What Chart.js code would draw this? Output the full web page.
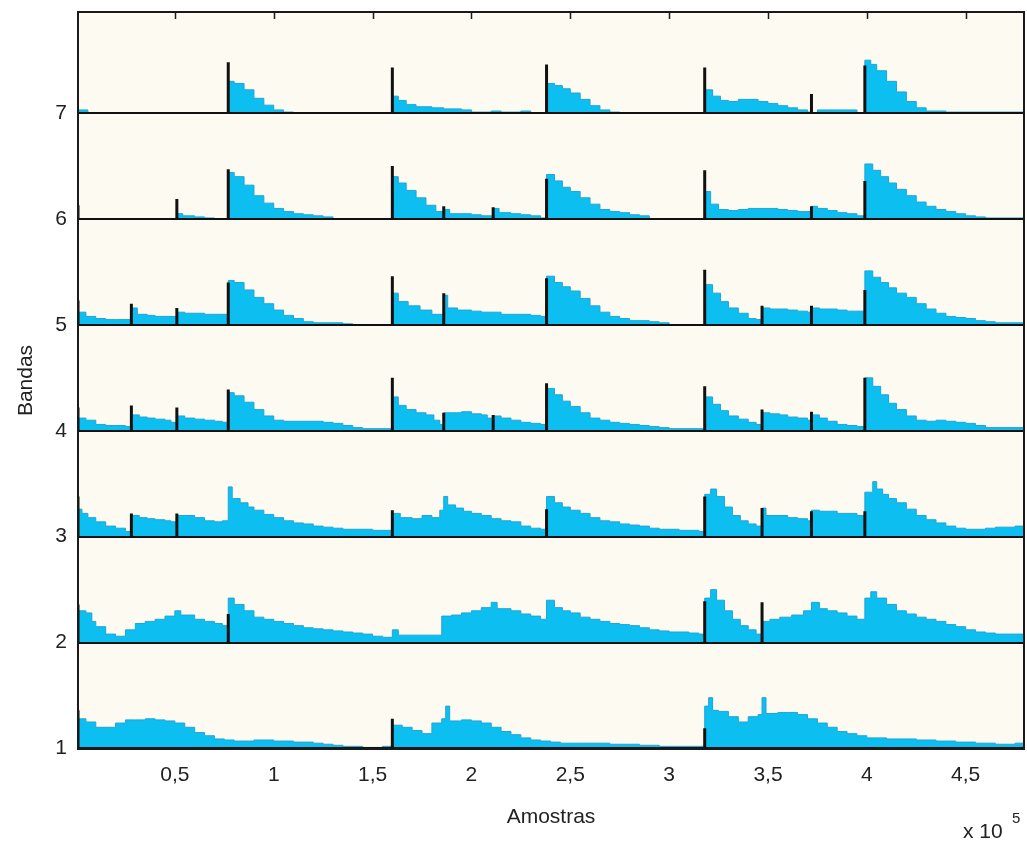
<!DOCTYPE html>
<html>
<head>
<meta charset="utf-8">
<title>Bandas x Amostras</title>
<script src="https://cdn.jsdelivr.net/npm/chart.js@4.4.1/dist/chart.umd.min.js"></script>
<style>
  body { margin: 0; background: #ffffff; }
  #wrap { width: 1027px; height: 842px; }
</style>
</head>
<body>
<div id="wrap"><canvas id="bandChart" width="1027" height="842"></canvas></div>
<script>
// ===== DATA (x in units of 1e5 samples, h = height above the band baseline) =====
const bandLevels = [1, 2, 3, 4, 5, 6, 7];
const xTickValues = [0.5, 1, 1.5, 2, 2.5, 3, 3.5, 4, 4.5];

const band1 = [[0.01,0.28],[0.05,0.25],[0.1,0.2],[0.15,0.2],[0.2,0.24],[0.25,0.27],[0.3,0.27],[0.35,0.28],[0.4,0.27],[0.45,0.26],[0.5,0.24],[0.55,0.2],[0.6,0.15],[0.65,0.12],[0.7,0.09],[0.75,0.08],[0.8,0.07],[0.9,0.08],[1.0,0.07],[1.1,0.06],[1.2,0.05],[1.25,0.04],[1.3,0.03],[1.35,0.02],[1.45,0.01],[1.55,0.02],[1.6,0.22],[1.65,0.2],[1.7,0.17],[1.75,0.14],[1.8,0.24],[1.85,0.28],[1.87,0.4],[1.89,0.26],[1.95,0.27],[2.0,0.26],[2.05,0.24],[2.1,0.2],[2.15,0.16],[2.2,0.13],[2.25,0.1],[2.3,0.08],[2.35,0.07],[2.4,0.06],[2.45,0.05],[2.7,0.04],[2.85,0.03],[2.95,0.02],[3.18,0.4],[3.2,0.48],[3.22,0.36],[3.25,0.35],[3.3,0.3],[3.35,0.25],[3.4,0.3],[3.45,0.32],[3.47,0.48],[3.49,0.33],[3.55,0.34],[3.6,0.34],[3.65,0.32],[3.7,0.28],[3.75,0.24],[3.8,0.2],[3.85,0.16],[3.9,0.14],[3.95,0.12],[4.0,0.1],[4.1,0.09],[4.25,0.08],[4.35,0.07],[4.45,0.06],[4.55,0.05],[4.65,0.04],[4.75,0.05],[4.8,0.05]];
const band2 = [[0.01,0.3],[0.05,0.28],[0.08,0.2],[0.1,0.15],[0.15,0.08],[0.2,0.06],[0.25,0.12],[0.3,0.18],[0.35,0.2],[0.4,0.22],[0.45,0.25],[0.5,0.3],[0.53,0.26],[0.6,0.22],[0.65,0.2],[0.7,0.18],[0.74,0.16],[0.77,0.42],[0.8,0.36],[0.85,0.3],[0.9,0.24],[0.95,0.22],[1.0,0.2],[1.05,0.18],[1.1,0.16],[1.15,0.14],[1.2,0.13],[1.25,0.12],[1.3,0.11],[1.35,0.1],[1.4,0.09],[1.45,0.08],[1.5,0.06],[1.55,0.05],[1.6,0.12],[1.63,0.07],[1.85,0.25],[1.9,0.26],[1.95,0.28],[2.0,0.3],[2.05,0.33],[2.1,0.38],[2.13,0.32],[2.2,0.3],[2.25,0.27],[2.3,0.25],[2.35,0.22],[2.38,0.4],[2.42,0.33],[2.46,0.3],[2.5,0.28],[2.55,0.24],[2.6,0.22],[2.65,0.2],[2.7,0.18],[2.75,0.17],[2.8,0.16],[2.85,0.14],[2.9,0.12],[2.95,0.11],[3.0,0.1],[3.1,0.09],[3.15,0.08],[3.18,0.42],[3.21,0.5],[3.24,0.4],[3.28,0.3],[3.32,0.22],[3.36,0.16],[3.4,0.12],[3.44,0.08],[3.47,0.2],[3.51,0.22],[3.56,0.24],[3.62,0.26],[3.68,0.3],[3.72,0.38],[3.76,0.32],[3.8,0.3],[3.85,0.28],[3.9,0.25],[3.95,0.22],[3.99,0.42],[4.02,0.48],[4.05,0.42],[4.1,0.36],[4.15,0.3],[4.2,0.27],[4.25,0.24],[4.3,0.22],[4.35,0.2],[4.4,0.17],[4.45,0.15],[4.5,0.12],[4.55,0.1],[4.6,0.09],[4.65,0.08],[4.8,0.08]];
const band3 = [[0.01,0.26],[0.03,0.22],[0.06,0.18],[0.1,0.14],[0.15,0.1],[0.2,0.08],[0.25,0.05],[0.28,0.2],[0.32,0.18],[0.36,0.17],[0.4,0.16],[0.45,0.15],[0.48,0.14],[0.51,0.2],[0.55,0.2],[0.6,0.18],[0.65,0.15],[0.7,0.14],[0.74,0.15],[0.77,0.47],[0.79,0.36],[0.83,0.32],[0.87,0.28],[0.9,0.25],[0.95,0.21],[1.0,0.18],[1.05,0.15],[1.1,0.13],[1.15,0.12],[1.2,0.1],[1.25,0.09],[1.3,0.08],[1.35,0.07],[1.5,0.06],[1.6,0.22],[1.64,0.18],[1.7,0.17],[1.75,0.2],[1.8,0.18],[1.84,0.25],[1.86,0.38],[1.88,0.3],[1.92,0.27],[1.96,0.24],[2.0,0.22],[2.05,0.2],[2.1,0.17],[2.15,0.15],[2.2,0.14],[2.25,0.1],[2.3,0.08],[2.35,0.07],[2.38,0.38],[2.42,0.32],[2.46,0.28],[2.5,0.25],[2.55,0.22],[2.6,0.18],[2.65,0.15],[2.7,0.14],[2.75,0.12],[2.8,0.11],[2.85,0.1],[2.9,0.08],[2.95,0.07],[3.05,0.06],[3.15,0.05],[3.18,0.4],[3.21,0.45],[3.24,0.38],[3.28,0.28],[3.32,0.2],[3.36,0.15],[3.4,0.12],[3.44,0.1],[3.47,0.27],[3.49,0.2],[3.55,0.2],[3.6,0.18],[3.65,0.17],[3.7,0.15],[3.72,0.25],[3.76,0.24],[3.8,0.24],[3.85,0.22],[3.9,0.22],[3.95,0.2],[3.99,0.42],[4.03,0.52],[4.05,0.45],[4.08,0.4],[4.11,0.36],[4.15,0.32],[4.2,0.26],[4.25,0.2],[4.3,0.16],[4.35,0.13],[4.4,0.1],[4.45,0.08],[4.5,0.07],[4.6,0.08],[4.65,0.09],[4.7,0.09],[4.75,0.1],[4.8,0.1]];
const band4 = [[0.01,0.12],[0.05,0.1],[0.1,0.06],[0.15,0.05],[0.2,0.05],[0.25,0.04],[0.28,0.15],[0.32,0.13],[0.36,0.12],[0.4,0.11],[0.45,0.1],[0.48,0.08],[0.51,0.14],[0.55,0.12],[0.6,0.11],[0.65,0.1],[0.7,0.09],[0.74,0.08],[0.77,0.36],[0.8,0.33],[0.85,0.27],[0.9,0.2],[0.95,0.14],[1.0,0.1],[1.05,0.09],[1.25,0.08],[1.3,0.07],[1.35,0.05],[1.4,0.03],[1.45,0.02],[1.6,0.32],[1.63,0.24],[1.67,0.2],[1.72,0.17],[1.77,0.15],[1.81,0.1],[1.84,0.06],[1.86,0.17],[1.9,0.17],[1.95,0.18],[2.0,0.16],[2.05,0.15],[2.08,0.12],[2.11,0.14],[2.15,0.12],[2.2,0.1],[2.25,0.08],[2.3,0.07],[2.35,0.06],[2.38,0.4],[2.42,0.34],[2.46,0.28],[2.5,0.23],[2.55,0.17],[2.6,0.12],[2.65,0.1],[2.7,0.08],[2.75,0.07],[2.8,0.06],[2.85,0.05],[2.9,0.04],[2.95,0.03],[3.0,0.02],[3.18,0.32],[3.22,0.25],[3.26,0.19],[3.3,0.14],[3.35,0.11],[3.4,0.08],[3.44,0.06],[3.47,0.17],[3.51,0.16],[3.56,0.15],[3.6,0.13],[3.65,0.12],[3.7,0.1],[3.72,0.15],[3.76,0.12],[3.8,0.09],[3.85,0.06],[3.9,0.05],[3.95,0.04],[3.99,0.5],[4.03,0.42],[4.07,0.34],[4.11,0.26],[4.15,0.2],[4.2,0.14],[4.25,0.1],[4.3,0.09],[4.35,0.1],[4.4,0.09],[4.45,0.08],[4.5,0.07],[4.55,0.05],[4.6,0.03],[4.8,0.03]];
const band5 = [[0.01,0.12],[0.05,0.08],[0.1,0.06],[0.15,0.05],[0.2,0.05],[0.28,0.16],[0.31,0.1],[0.36,0.09],[0.4,0.08],[0.45,0.08],[0.51,0.12],[0.55,0.11],[0.6,0.11],[0.65,0.1],[0.7,0.1],[0.77,0.42],[0.8,0.4],[0.85,0.33],[0.9,0.26],[0.95,0.2],[1.0,0.14],[1.05,0.09],[1.1,0.06],[1.15,0.03],[1.2,0.02],[1.35,0.01],[1.4,0],[1.6,0.3],[1.63,0.22],[1.68,0.18],[1.74,0.14],[1.8,0.1],[1.86,0.28],[1.88,0.16],[1.93,0.14],[2.0,0.13],[2.05,0.12],[2.1,0.12],[2.15,0.1],[2.25,0.1],[2.3,0.09],[2.35,0.08],[2.38,0.46],[2.42,0.4],[2.46,0.36],[2.5,0.32],[2.55,0.25],[2.6,0.18],[2.65,0.12],[2.7,0.08],[2.75,0.06],[2.8,0.04],[2.9,0.03],[2.95,0.02],[3.0,0],[3.18,0.38],[3.22,0.3],[3.26,0.22],[3.3,0.16],[3.35,0.11],[3.4,0.06],[3.44,0.05],[3.47,0.16],[3.51,0.15],[3.6,0.14],[3.65,0.13],[3.7,0.12],[3.72,0.16],[3.76,0.15],[3.85,0.14],[3.9,0.13],[3.99,0.51],[4.03,0.45],[4.07,0.4],[4.11,0.35],[4.15,0.3],[4.2,0.26],[4.25,0.2],[4.3,0.15],[4.35,0.11],[4.4,0.08],[4.45,0.07],[4.5,0.06],[4.55,0.04],[4.6,0.03],[4.65,0.02],[4.8,0.02]];
const band6 = [[0.01,0],[0.51,0.05],[0.54,0.03],[0.6,0.02],[0.65,0.01],[0.7,0],[0.77,0.44],[0.8,0.4],[0.85,0.32],[0.9,0.22],[0.95,0.15],[1.0,0.1],[1.05,0.07],[1.1,0.05],[1.15,0.04],[1.2,0.03],[1.25,0.02],[1.3,0],[1.6,0.4],[1.63,0.34],[1.67,0.27],[1.72,0.2],[1.77,0.13],[1.82,0.07],[1.86,0.09],[1.89,0.05],[1.95,0.05],[2.0,0.04],[2.05,0.03],[2.11,0.1],[2.14,0.06],[2.2,0.05],[2.25,0.04],[2.3,0.03],[2.35,0.01],[2.38,0.42],[2.42,0.36],[2.46,0.3],[2.5,0.26],[2.55,0.2],[2.6,0.14],[2.65,0.09],[2.7,0.07],[2.75,0.06],[2.8,0.04],[2.85,0.03],[2.9,0],[3.18,0.26],[3.21,0.14],[3.25,0.09],[3.3,0.08],[3.35,0.09],[3.4,0.1],[3.45,0.1],[3.5,0.1],[3.55,0.09],[3.6,0.08],[3.65,0.07],[3.72,0.12],[3.75,0.1],[3.8,0.08],[3.85,0.06],[3.9,0.05],[3.95,0.03],[3.99,0.52],[4.03,0.46],[4.07,0.4],[4.11,0.34],[4.15,0.28],[4.2,0.22],[4.25,0.16],[4.3,0.12],[4.35,0.09],[4.4,0.07],[4.45,0.05],[4.5,0.03],[4.55,0.02],[4.6,0.01],[4.8,0.01]];
const band7 = [[0.01,0.03],[0.06,0],[0.77,0.3],[0.8,0.28],[0.85,0.22],[0.9,0.14],[0.95,0.075],[1.0,0.03],[1.05,0.01],[1.1,0],[1.6,0.16],[1.63,0.12],[1.67,0.08],[1.72,0.06],[1.8,0.05],[1.86,0.04],[1.95,0.03],[2.0,0.01],[2.1,0.02],[2.15,0.01],[2.25,0.02],[2.3,0],[2.38,0.28],[2.42,0.26],[2.46,0.23],[2.5,0.19],[2.55,0.13],[2.6,0.07],[2.65,0.03],[2.7,0.01],[2.75,0],[3.18,0.22],[3.22,0.16],[3.26,0.12],[3.3,0.11],[3.35,0.13],[3.4,0.13],[3.45,0.11],[3.5,0.09],[3.55,0.07],[3.6,0.05],[3.65,0.03],[3.7,0.01],[3.72,0],[3.75,0.03],[3.95,0],[3.99,0.5],[4.02,0.46],[4.05,0.4],[4.1,0.3],[4.15,0.2],[4.2,0.11],[4.25,0.05],[4.3,0.02],[4.4,0.01],[4.8,0.01]];

// black onset markers [x, height]
const marks1 = [[0.01,0.36],[1.6,0.28],[3.18,0.19]];
const marks2 = [[0.01,0.36],[0.77,0.27],[3.18,0.39],[3.47,0.38]];
const marks3 = [[0.01,0.38],[0.28,0.22],[0.51,0.22],[1.6,0.25],[2.38,0.26],[3.18,0.38],[3.47,0.27],[3.72,0.24],[3.99,0.24]];
const marks4 = [[0.01,0.22],[0.28,0.24],[0.51,0.22],[0.77,0.39],[1.6,0.5],[1.86,0.17],[2.11,0.15],[2.38,0.45],[3.18,0.42],[3.47,0.2],[3.72,0.18],[3.99,0.5]];
const marks5 = [[0.01,0.23],[0.28,0.2],[0.51,0.16],[0.77,0.4],[1.6,0.46],[1.86,0.3],[2.38,0.44],[3.18,0.52],[3.47,0.18],[3.72,0.18],[3.99,0.33]];
const marks6 = [[0.01,0.13],[0.51,0.19],[0.77,0.47],[1.6,0.5],[1.86,0.12],[2.11,0.11],[2.38,0.38],[3.18,0.46],[3.72,0.12],[3.99,0.36]];
const marks7 = [[0.77,0.48],[1.6,0.43],[2.38,0.46],[3.18,0.43],[3.72,0.18],[3.99,0.45]];

const bandSeries = [band1, band2, band3, band4, band5, band6, band7];
const bandMarks = [marks1, marks2, marks3, marks4, marks5, marks6, marks7];

/* =========================
   DATASETS
========================= */
const FILL_BLUE = "#0cbff0";
const datasets = [];

bandSeries.forEach((pts, i) => {
  const base = bandLevels[i];
  datasets.push({
    type: "line",
    data: pts.map(([x, h]) => ({ x: x, y: base + h })),
    stepped: true,
    borderColor: "#1fa6d6",
    borderWidth: 1,
    backgroundColor: FILL_BLUE,
    fill: { value: base },
    pointRadius: 0,
    order: 2
  });
});

bandMarks.forEach((pts, i) => {
  const base = bandLevels[i];
  const data = [];
  pts.forEach(([x, h]) => {
    data.push({ x: x, y: base });
    data.push({ x: x, y: base + h });
    data.push({ x: x, y: null });
  });
  datasets.push({
    type: "line",
    data: data,
    borderColor: "#111111",
    borderWidth: 3,
    pointRadius: 0,
    fill: false,
    spanGaps: false,
    order: 1
  });
});

/* =========================
   PLUGINS
========================= */
const bgPlugin = {
  id: "bg",
  beforeDraw(chart) {
    const { ctx, chartArea: a } = chart;
    ctx.save();
    ctx.fillStyle = "#ffffff";
    ctx.fillRect(0, 0, chart.width, chart.height);
    ctx.fillStyle = "#fdfaf1";
    ctx.fillRect(a.left, a.top, a.right - a.left, a.bottom - a.top);
    ctx.restore();
  }
};

const framePlugin = {
  id: "frame",
  afterDraw(chart) {
    const { ctx, chartArea: a } = chart;
    const xs = chart.scales.x;
    ctx.save();
    ctx.strokeStyle = "#1a1a1a";
    ctx.lineWidth = 2;
    ctx.strokeRect(a.left, a.top, a.right - a.left, a.bottom - a.top);
    // inward ticks on top edge
    ctx.lineWidth = 1.5;
    xTickValues.forEach(v => {
      const px = Math.round(xs.getPixelForValue(v)) + 0.5;
      ctx.beginPath();
      ctx.moveTo(px, a.top);
      ctx.lineTo(px, a.top + 7);
      ctx.stroke();
    });
    // exponent label
    ctx.fillStyle = "#222222";
    ctx.font = "21px 'Liberation Sans', Arial, sans-serif";
    ctx.textBaseline = "alphabetic";
    ctx.textAlign = "left";
    ctx.fillText("x 10", 963, 838);
    ctx.font = "15px 'Liberation Sans', Arial, sans-serif";
    ctx.fillText("5", 1012, 823);
    ctx.restore();
  }
};

/* =========================
   CHART
========================= */
const tickFont = { family: "'Liberation Sans', Arial, sans-serif", size: 21 };

new Chart(document.getElementById("bandChart").getContext("2d"), {
  type: "line",
  data: { datasets: datasets },
  plugins: [bgPlugin, framePlugin],
  options: {
    responsive: false,
    animation: false,
    layout: { padding: { top: 12, right: 3, left: 0, bottom: 0 } },
    plugins: {
      legend: { display: false },
      tooltip: { enabled: false }
    },
    scales: {
      x: {
        type: "linear",
        min: 0.01,
        max: 4.795,
        grid: { display: false, drawTicks: false },
        border: { display: false },
        afterBuildTicks: scale => {
          scale.ticks = xTickValues.map(v => ({ value: v }));
        },
        afterFit: scale => {
          scale.height = 93;
          scale.paddingLeft = 0;
          scale.paddingRight = 0;
        },
        ticks: {
          color: "#222222",
          font: tickFont,
          padding: 14,
          maxRotation: 0,
          autoSkip: false,
          callback: v => String(v).replace(".", ",")
        },
        title: {
          display: true,
          text: "Amostras",
          color: "#222222",
          font: tickFont,
          padding: { top: 0, bottom: 12 }
        }
      },
      y: {
        type: "linear",
        min: 0.995,
        max: 7.955,
        grid: { color: "#111111", lineWidth: 2, drawTicks: false, z: 1 },
        border: { display: false },
        afterBuildTicks: scale => {
          scale.ticks = bandLevels.map(v => ({ value: v }));
        },
        afterFit: scale => {
          scale.width = 78;
          scale.paddingTop = 0;
          scale.paddingBottom = 0;
        },
        ticks: {
          color: "#222222",
          font: tickFont,
          padding: 11,
          callback: v => String(v)
        },
        title: {
          display: true,
          text: "Bandas",
          color: "#222222",
          font: tickFont,
          padding: { top: 14, bottom: 0 }
        }
      }
    }
  }
});
</script>
</body>
</html>
